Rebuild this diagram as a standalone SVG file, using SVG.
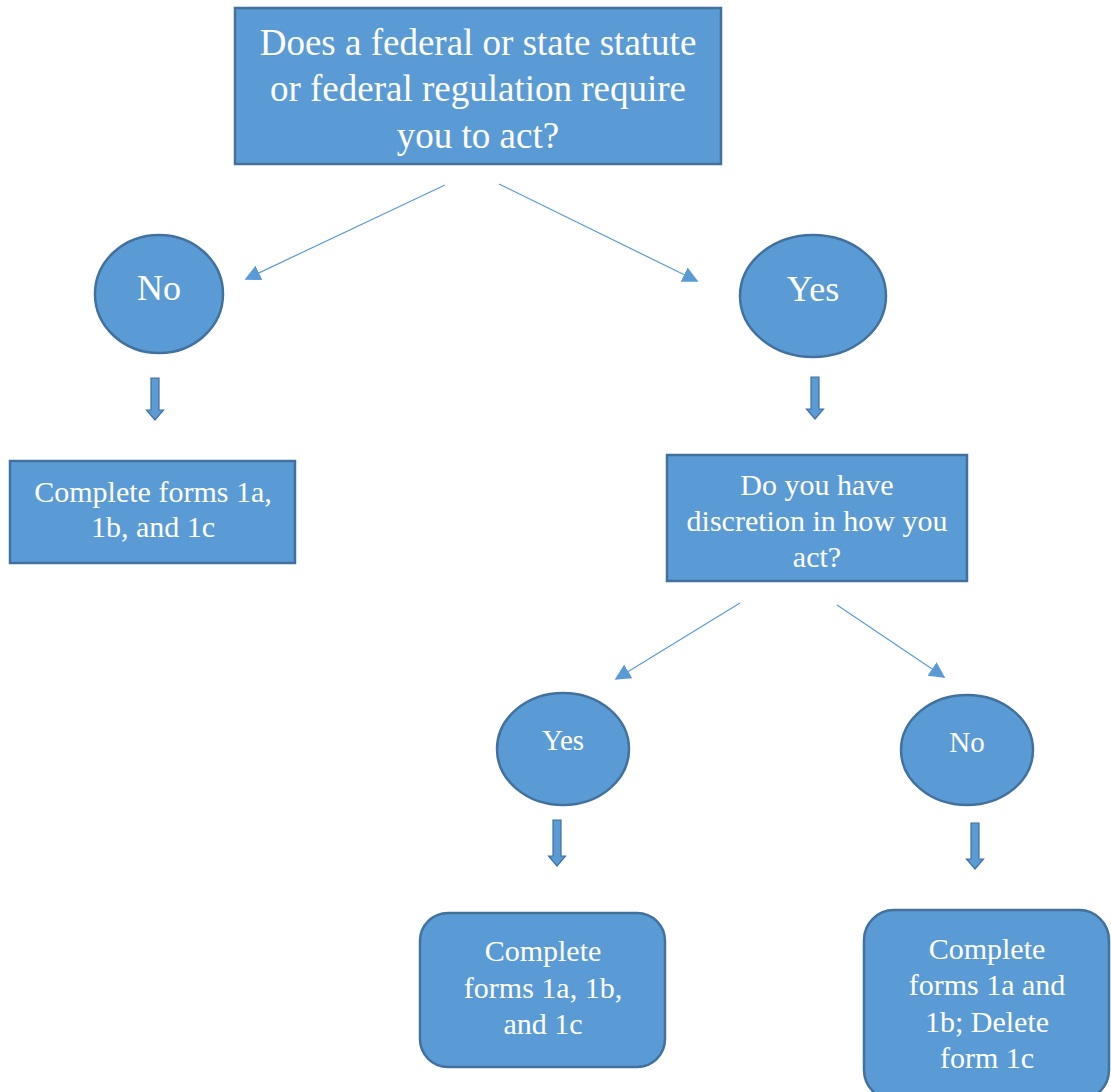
<svg xmlns="http://www.w3.org/2000/svg" width="1111" height="1092" viewBox="0 0 1111 1092">
<style>
.n{fill:#5B9BD5;stroke:#41719C;stroke-width:2.5}
.t{fill:#fff;text-anchor:middle;font-family:'Liberation Serif','Times New Roman',serif}
.c{stroke:#5B9BD5;stroke-width:1.2;fill:none;marker-end:url(#ah)}
.b{fill:#5B9BD5;stroke:#41719C;stroke-width:1.2}
</style>
<defs>
<marker id="ah" viewBox="0 0 10 10" refX="9" refY="5" markerWidth="16" markerHeight="16" markerUnits="userSpaceOnUse" orient="auto">
<path d="M0,0 L10,5 L0,10 z" fill="#5B9BD5"/>
</marker>
</defs>
<rect width="1111" height="1092" fill="#fff"/>
<g id="connectors">
<line class="c" x1="445" y1="185" x2="246" y2="279"/>
<line class="c" x1="499" y1="184" x2="697" y2="281"/>
<line class="c" x1="740" y1="603" x2="616" y2="679"/>
<line class="c" x1="837" y1="605" x2="944" y2="677"/>
<path class="b" d="M151,378 h8 v32 h4.5 l-8.5,10 l-8.5,-10 h4.5 z"/>
<path class="b" d="M811,377 h8 v32 h4.5 l-8.5,10 l-8.5,-10 h4.5 z"/>
<path class="b" d="M553,820 h8 v36 h4.5 l-8.5,10 l-8.5,-10 h4.5 z"/>
<path class="b" d="M971,823 h8 v36 h4.5 l-8.5,10 l-8.5,-10 h4.5 z"/>
</g>
<g id="q1">
<rect class="n" x="235" y="8" width="486" height="156"/>
<text class="t" font-size="37"><tspan x="478" y="55">Does a federal or state statute</tspan><tspan x="478" y="101">or federal regulation require</tspan><tspan x="478" y="148">you to act?</tspan></text>
</g>
<g id="no1">
<ellipse class="n" cx="159" cy="294" rx="64" ry="59"/>
<text class="t" font-size="36" x="159" y="300">No</text>
</g>
<g id="yes1">
<ellipse class="n" cx="813" cy="296" rx="73" ry="61"/>
<text class="t" font-size="36" x="813" y="301">Yes</text>
</g>
<g id="r1">
<rect class="n" x="10" y="461" width="285" height="102"/>
<text class="t" font-size="30"><tspan x="153" y="502">Complete forms 1a,</tspan><tspan x="153" y="537">1b, and 1c</tspan></text>
</g>
<g id="q2">
<rect class="n" x="667" y="455" width="300" height="126"/>
<text class="t" font-size="30"><tspan x="817" y="495">Do you have</tspan><tspan x="817" y="531">discretion in how you</tspan><tspan x="817" y="567">act?</tspan></text>
</g>
<g id="yes2">
<ellipse class="n" cx="563" cy="749" rx="66" ry="56"/>
<text class="t" font-size="29" x="563" y="750">Yes</text>
</g>
<g id="no2">
<ellipse class="n" cx="967" cy="750" rx="66" ry="55"/>
<text class="t" font-size="29" x="967" y="752">No</text>
</g>
<g id="r2">
<rect class="n" x="420" y="913" width="245" height="154" rx="28"/>
<text class="t" font-size="30"><tspan x="543" y="961">Complete</tspan><tspan x="543" y="998">forms 1a, 1b,</tspan><tspan x="543" y="1034">and 1c</tspan></text>
</g>
<g id="r3">
<rect class="n" x="864" y="910" width="245" height="190" rx="30"/>
<text class="t" font-size="30"><tspan x="987" y="959">Complete</tspan><tspan x="987" y="995">forms 1a and</tspan><tspan x="987" y="1032">1b; Delete</tspan><tspan x="987" y="1068">form 1c</tspan></text>
</g>
</svg>
